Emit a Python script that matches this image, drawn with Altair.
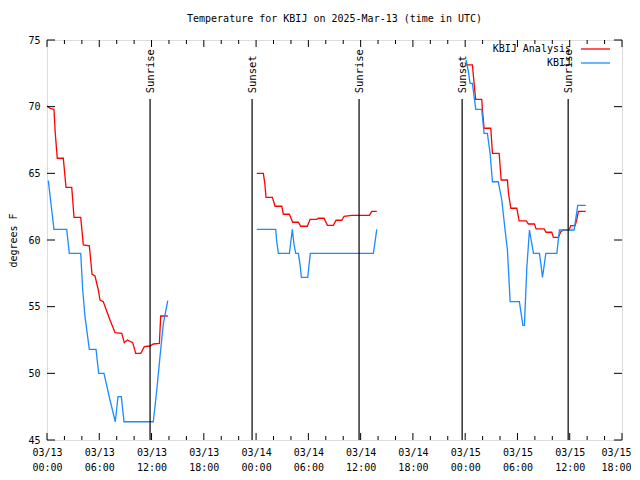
import altair as alt
import pandas as pd

# ---------------- data (hours since 03/13 00:00 UTC, degrees F) ----------------
red1_h = [0.0, 0.34, 0.80, 0.95, 1.18, 1.87, 2.18, 2.84, 3.10, 3.87, 4.17, 4.86, 5.17, 5.51, 5.89, 6.08, 6.46, 7.23, 7.81, 8.58, 8.87, 9.22, 9.84, 10.18, 10.76, 11.17, 11.83, 12.2, 12.9, 13.05, 13.86]
red1_v = [70.05, 69.88, 69.8, 68.0, 66.13, 66.13, 63.95, 63.95, 61.7, 61.7, 59.63, 59.57, 57.43, 57.3, 56.25, 55.5, 55.37, 54.0, 53.05, 53.0, 52.3, 52.5, 52.3, 51.5, 51.5, 52.0, 52.05, 52.2, 52.25, 54.3, 54.3]

blue1_h = [0.15, 0.8, 2.26, 2.56, 3.87, 4.1, 4.36, 4.86, 5.63, 5.93, 6.54, 7.23, 7.84, 8.15, 8.53, 8.84, 12.2, 12.6, 12.97, 13.36, 13.86]
blue1_v = [64.45, 60.8, 60.8, 59.0, 59.0, 56.25, 54.25, 51.8, 51.8, 50.0, 50.0, 48.0, 46.37, 48.25, 48.25, 46.37, 46.37, 48.75, 51.25, 53.75, 55.45]

red2_h = [24.08, 24.83, 25.0, 25.14, 25.87, 26.18, 26.95, 27.13, 27.82, 28.2, 28.85, 29.12, 29.88, 30.2, 30.96, 31.15, 31.8, 32.18, 32.87, 33.18, 33.83, 34.1, 34.98, 37.0, 37.28, 37.85]
red2_v = [65.0, 65.0, 64.25, 63.2, 63.2, 62.53, 62.53, 61.93, 61.93, 61.33, 61.33, 61.03, 61.03, 61.55, 61.55, 61.63, 61.63, 61.1, 61.1, 61.48, 61.48, 61.78, 61.85, 61.85, 62.15, 62.15]

blue2_h = [24.08, 26.25, 26.37, 26.56, 27.82, 28.0, 28.16, 28.36, 28.55, 28.85, 29.05, 29.2, 29.93, 30.08, 30.23, 37.46, 37.66, 37.85]
blue2_v = [60.8, 60.8, 59.88, 59.0, 59.0, 59.93, 60.8, 59.63, 59.0, 59.0, 58.13, 57.2, 57.2, 58.13, 59.0, 59.0, 59.88, 60.8]

red3_h = [48.1, 48.83, 49.0, 49.2, 49.9, 49.98, 50.17, 50.94, 51.13, 51.9, 52.13, 52.85, 52.97, 53.24, 53.93, 54.19, 55.0, 55.26, 55.95, 56.14, 57.06, 57.29, 57.94, 58.13, 58.7, 58.98, 59.28, 59.93, 60.12, 60.62, 60.8, 61.0, 61.84]
red3_v = [73.13, 73.13, 71.9, 70.55, 70.55, 69.75, 68.38, 68.38, 66.5, 66.5, 64.5, 64.5, 63.5, 62.38, 62.38, 61.43, 61.43, 61.2, 61.2, 60.83, 60.83, 60.58, 60.58, 60.2, 60.2, 60.63, 60.75, 60.75, 61.08, 61.08, 61.5, 62.15, 62.15]

blue3_h = [48.1, 48.37, 48.56, 48.83, 49.02, 49.22, 49.9, 50.17, 50.55, 50.86, 51.13, 51.8, 52.2, 52.58, 52.85, 53.16, 54.22, 54.42, 54.62, 54.8, 55.08, 55.38, 55.57, 55.84, 56.52, 56.68, 56.87, 57.1, 57.26, 58.52, 58.82, 60.5, 60.73, 60.92, 61.84]
blue3_v = [73.5, 72.63, 71.75, 71.75, 70.75, 69.8, 69.8, 68.0, 68.0, 66.5, 64.37, 64.37, 63.0, 60.75, 59.25, 55.38, 55.38, 54.5, 53.6, 53.6, 58.0, 60.75, 60.0, 59.0, 59.0, 58.25, 57.2, 58.25, 59.0, 59.0, 60.75, 60.75, 61.75, 62.6, 62.6]

series_names = ["KBIJ Analysis", "KBIJ"]
series_colors = ["#ff0000", "#1a8cff"]

sun_h = [11.83, 23.54, 35.82, 47.65, 59.82]
sun_labels = ["Sunrise", "Sunset", "Sunrise", "Sunset", "Sunrise"]

x_tick_hours = [0, 6, 12, 18, 24, 30, 36, 42, 48, 54, 60, 66]
x_tick_dates = ["03/13", "03/13", "03/13", "03/13", "03/14", "03/14", "03/14", "03/14", "03/15", "03/15", "03/15", "03/15"]
x_tick_times = ["00:00", "06:00", "12:00", "18:00", "00:00", "06:00", "12:00", "18:00", "00:00", "06:00", "12:00", "18:00"]
x_minor_hours = [h for h in range(0, 67, 2) if h % 6 != 0]
y_ticks = [45, 50, 55, 60, 65, 70, 75]

X_DOMAIN = [0, 66.0]
Y_DOMAIN = [45, 75]
FONT = "DejaVu Sans Mono"

# ---------------- build tables ----------------
rows = []
segs = [
    ("KBIJ Analysis", 1, red1_h, red1_v), ("KBIJ", 1, blue1_h, blue1_v),
    ("KBIJ Analysis", 2, red2_h, red2_v), ("KBIJ", 2, blue2_h, blue2_v),
    ("KBIJ Analysis", 3, red3_h, red3_v), ("KBIJ", 3, blue3_h, blue3_v),
]
for name, seg, hs, vs in segs:
    for i, (h, v) in enumerate(zip(hs, vs)):
        rows.append({"series": name, "seg": f"{name}-{seg}", "h": h, "v": v, "i": i})
df = pd.DataFrame(rows)

sun_df = pd.DataFrame({"h": sun_h, "label": sun_labels, "y0": 45, "y1": 70.57, "yt": 71.0})

js_dates = "[" + ",".join(f"'{d}'" for d in x_tick_dates) + "]"
js_times = "[" + ",".join(f"'{t}'" for t in x_tick_times) + "]"
label_expr = f"[{js_dates}[round(datum.value/6)], {js_times}[round(datum.value/6)]]"

xscale = alt.Scale(domain=X_DOMAIN, nice=False, zero=False)
yscale = alt.Scale(domain=Y_DOMAIN, nice=False, zero=False)

x_axis = alt.Axis(values=x_tick_hours, labelExpr=label_expr, ticks=False, grid=False, domain=False,
                  labelPadding=7, labelFont=FONT, labelFontSize=10, labelColor="black",
                  labelLineHeight=15, labelBaseline="top", title=None, labelFlush=False,
                  labelOffset={"condition": {"test": "datum.value >= 66", "value": -6}, "value": 0})
y_axis = alt.Axis(values=y_ticks, ticks=False, grid=False, domain=False, labelPadding=7,
                  labelFont=FONT, labelFontSize=10, labelColor="black", title="degrees F",
                  titleFont=FONT, titleFontSize=10, titleFontWeight="normal", titleColor="black",
                  titleX=-34, titleY=200, titleAngle=270, titleAlign="center", titleBaseline="middle")

base = alt.Chart(df)
lines = base.mark_line(strokeWidth=1.3, interpolate="linear").encode(
    x=alt.X("h:Q", scale=xscale, axis=x_axis),
    y=alt.Y("v:Q", scale=yscale, axis=y_axis),
    color=alt.Color("series:N", scale=alt.Scale(domain=series_names, range=series_colors), legend=None),
    detail="seg:N",
    order="i:Q",
)

sun_rules = alt.Chart(sun_df).mark_rule(color="black", strokeWidth=1.2).encode(
    x=alt.X("h:Q", scale=xscale), y=alt.Y("y0:Q", scale=yscale), y2="y1:Q")
sun_text = alt.Chart(sun_df).mark_text(angle=270, align="left", baseline="middle", font=FONT,
                                       fontSize=10.5, color="black", dy=1).encode(
    x=alt.X("h:Q", scale=xscale), y=alt.Y("yt:Q", scale=yscale), text="label:N")

# inward ticks (gnuplot style), bottom/top and left/right mirrors
xt_major = pd.DataFrame({"h": x_tick_hours})
xt_minor = pd.DataFrame({"h": x_minor_hours})
yt = pd.DataFrame({"v": y_ticks})

def xticks(d, length):
    b = alt.Chart(d).mark_rule(color="black", strokeWidth=1).encode(
        x=alt.X("h:Q", scale=xscale), y=alt.value(400), y2=alt.value(400 - length))
    t = alt.Chart(d).mark_rule(color="black", strokeWidth=1).encode(
        x=alt.X("h:Q", scale=xscale), y=alt.value(0), y2=alt.value(length))
    return b + t

ytick_l = alt.Chart(yt).mark_rule(color="black", strokeWidth=1).encode(
    y=alt.Y("v:Q", scale=yscale), x=alt.value(0), x2=alt.value(8))
ytick_r = alt.Chart(yt).mark_rule(color="black", strokeWidth=1).encode(
    y=alt.Y("v:Q", scale=yscale), x=alt.value(575), x2=alt.value(567))

# legend (gnuplot style: text right-aligned, sample line to the right)
leg_df = pd.DataFrame({"series": series_names, "ypix": [9, 23]})
leg_text = alt.Chart(leg_df).mark_text(align="right", baseline="middle", font=FONT, fontSize=10,
                                       color="black").encode(
    x=alt.value(524), y=alt.Y("ypix:Q", scale=None), text="series:N")
leg_line = alt.Chart(leg_df).mark_rule(strokeWidth=1.3).encode(
    x=alt.value(534), x2=alt.value(563), y=alt.Y("ypix:Q", scale=None),
    color=alt.Color("series:N", scale=alt.Scale(domain=series_names, range=series_colors), legend=None))

chart = alt.layer(
    lines, sun_rules, sun_text, xticks(xt_major, 7), xticks(xt_minor, 4), ytick_l, ytick_r,
    leg_text, leg_line,
).properties(
    width=575, height=400,
    title=alt.TitleParams("Temperature for KBIJ on 2025-Mar-13 (time in UTC)", font=FONT, fontSize=10,
                          fontWeight="normal", color="black", anchor="middle", offset=11),
    autosize=alt.AutoSizeParams(type="none"),
    padding={"left": 39, "top": 32, "right": 9, "bottom": 32},
).configure_view(stroke="black", strokeWidth=1).configure(background="white")

chart.save("out.html", embed_options={"renderer": "svg", "actions": False})
